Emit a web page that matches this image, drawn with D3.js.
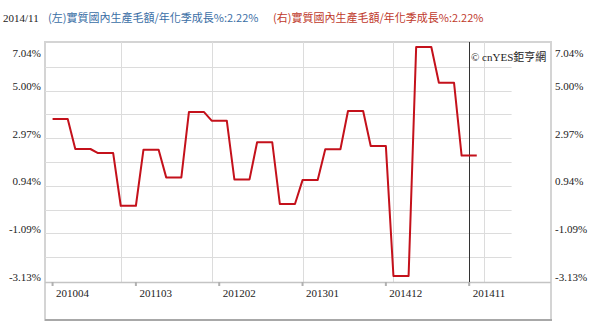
<!DOCTYPE html>
<html>
<head>
<meta charset="utf-8">
<script src="https://cdn.jsdelivr.net/npm/d3@7"></script>
<style>
  body { margin: 0; background: #fff; }
  svg { display: block; }
  .axis text { font-family: "Liberation Serif", "DejaVu Serif", serif; font-size: 11px; fill: #222; }
  .axis path, .axis line { display: none; }
</style>
</head>
<body>
<div class="container"></div>
<script>
//quarterly real GDP, annualized q/q growth (%)
var quarters = ["2010Q2", "2010Q3", "2010Q4", "2011Q1", "2011Q2", "2011Q3", "2011Q4",
    "2012Q1", "2012Q2", "2012Q3", "2012Q4", "2013Q1", "2013Q2", "2013Q3", "2013Q4",
    "2014Q1", "2014Q2", "2014Q3", "2014Q4"];
var growth = [3.84, 2.51, 2.33, -0.01, 2.48, 1.25, 4.15,
    3.77, 1.16, 2.81, 0.07, 1.13, 2.50, 4.20, 2.64,
    -3.13, 7.04, 5.45, 2.22];

//x axis: month index from 2010/04
var xTickIdx = [0, 11, 22, 33, 44, 55];
var xTickLabels = ["201004", "201103", "201202", "201301", "201412", "201411"];
var januaryIdx = [9, 21, 33, 45, 57];
var currentIdx = 55;

//y axis labels
var yTicks = [-3.13, -1.09, 0.94, 2.97, 5.00, 7.04];

var titleDate = "2014/11";
var titleLeft = "(左)實質國內生產毛額/年化季成長%:2.22%";
var titleRight = "(右)實質國內生產毛額/年化季成長%:2.22%";
var credit = "© cnYES鉅亨網";

(function () {
    var width = 600, height = 323;
    var box = { left: 45, top: 42, right: 551, bottom: 320 },
        plotBottom = 282;

    var svg = d3.select(".container").append("svg")
        .attr("width", width)
        .attr("height", height);

    //month index -> x
    var x = d3.scaleLinear().domain([-1, 65.8]).range([box.left, box.right]);
    //grid / label scale and data scale
    var yGrid = d3.scaleLinear().domain([-3.13, 7.04]).range([281, 43]);
    var y = d3.scaleLinear().domain([-3.13, 7.04]).range([276, 47]);

    //titles
    var cjk = '"Noto Sans CJK TC", "Noto Sans CJK SC", sans-serif';
    svg.append("text").attr("x", 3).attr("y", 22)
        .style("font-family", '"Liberation Serif", serif').style("font-size", "11px")
        .style("fill", "#222").text(titleDate);
    svg.append("text").attr("x", 48).attr("y", 22)
        .style("font-family", cjk).style("font-size", "11px")
        .style("fill", "#3a6ea5").text(titleLeft);
    svg.append("text").attr("x", 273).attr("y", 22)
        .style("font-family", cjk).style("font-size", "11px")
        .style("fill", "#c0392b").text(titleRight);

    //outer frame
    svg.append("rect")
        .attr("x", box.left).attr("y", box.top)
        .attr("width", box.right - box.left).attr("height", box.bottom - box.top)
        .style("fill", "#fff").style("stroke", "#d4d4d4").style("stroke-width", 2);
    svg.append("line")
        .attr("x1", box.left).attr("x2", box.right + 1)
        .attr("y1", box.bottom).attr("y2", box.bottom)
        .style("stroke", "#9a9a9a").style("stroke-width", 1.5);

    //horizontal grid
    var gridVals = d3.range(11).map(function (i) { return -3.13 + i * (7.04 + 3.13) / 10; });
    svg.selectAll(".hgrid")
        .data(gridVals.slice(1, 10))
        .enter().append("line")
        .attr("class", "hgrid")
        .attr("x1", box.left).attr("x2", x(60.6))
        .attr("y1", function (d) { return Math.round(yGrid(d)) + 0.5; })
        .attr("y2", function (d) { return Math.round(yGrid(d)) + 0.5; })
        .style("stroke", "#dcdcdc").style("stroke-width", 1);

    //vertical grid at each January
    svg.selectAll(".vgrid")
        .data(januaryIdx)
        .enter().append("line")
        .attr("class", "vgrid")
        .attr("x1", function (d) { return Math.round(x(d)) + 0.5; })
        .attr("x2", function (d) { return Math.round(x(d)) + 0.5; })
        .attr("y1", box.top).attr("y2", plotBottom)
        .style("stroke", "#dcdcdc").style("stroke-width", 1);

    //bottom axis line
    svg.append("line")
        .attr("x1", box.left).attr("x2", box.right)
        .attr("y1", plotBottom + 0.5).attr("y2", plotBottom + 0.5)
        .style("stroke", "#c4c4c4").style("stroke-width", 1.5);

    //x ticks and labels
    svg.selectAll(".xtick")
        .data(xTickIdx)
        .enter().append("line")
        .attr("class", "xtick")
        .attr("x1", function (d) { return x(d); })
        .attr("x2", function (d) { return x(d); })
        .attr("y1", plotBottom).attr("y2", plotBottom + 4)
        .style("stroke", "#b0b0b0").style("stroke-width", 2);

    var xAxis = d3.axisBottom(x)
        .tickValues(xTickIdx)
        .tickSize(0)
        .tickFormat(function (d, i) { return xTickLabels[i]; });
    svg.append("g")
        .attr("class", "axis")
        .attr("transform", "translate(0," + plotBottom + ")")
        .call(xAxis)
        .selectAll("text")
        .attr("text-anchor", "start")
        .attr("x", 3)
        .attr("y", 15)
        .attr("dy", 0);

    //current month marker
    svg.append("line")
        .attr("x1", Math.round(x(currentIdx)) + 0.5).attr("x2", Math.round(x(currentIdx)) + 0.5)
        .attr("y1", box.top).attr("y2", plotBottom)
        .style("stroke", "#333").style("stroke-width", 1);

    //y labels, both sides (top one pushed inside the frame)
    function placeLabels(sel) {
        sel.selectAll("text")
            .attr("dy", 0)
            .attr("y", function (d) { return d === 7.04 ? 13 : -1; });
    }
    var fmt = function (d) { return d.toFixed(2) + "%"; };
    svg.append("g")
        .attr("class", "axis")
        .attr("transform", "translate(" + (box.left - 4) + ",0)")
        .call(d3.axisLeft(yGrid).tickValues(yTicks).tickSize(0).tickPadding(0).tickFormat(fmt))
        .call(placeLabels);
    svg.append("g")
        .attr("class", "axis")
        .attr("transform", "translate(" + (box.right + 4) + ",0)")
        .call(d3.axisRight(yGrid).tickValues(yTicks).tickSize(0).tickPadding(0).tickFormat(fmt))
        .call(placeLabels);

    //credit
    svg.append("text")
        .attr("x", 471).attr("y", 61)
        .style("font-family", '"Liberation Serif", "Noto Sans CJK TC", serif')
        .style("font-size", "11px").style("fill", "#222")
        .text(credit);

    //monthly points: each quarter held for its three months
    var points = [];
    growth.forEach(function (v, q) {
        for (var m = 0; m < 3; m++) {
            points.push({ idx: q * 3 + m, value: v });
        }
    });

    var line = d3.line()
        .x(function (d) { return x(d.idx); })
        .y(function (d) { return y(d.value); });

    svg.append("path")
        .datum(points)
        .attr("d", line)
        .style("fill", "none")
        .style("stroke", "#c4111b")
        .style("stroke-width", 2)
        .style("stroke-linejoin", "round");
})();
</script>
</body>
</html>
